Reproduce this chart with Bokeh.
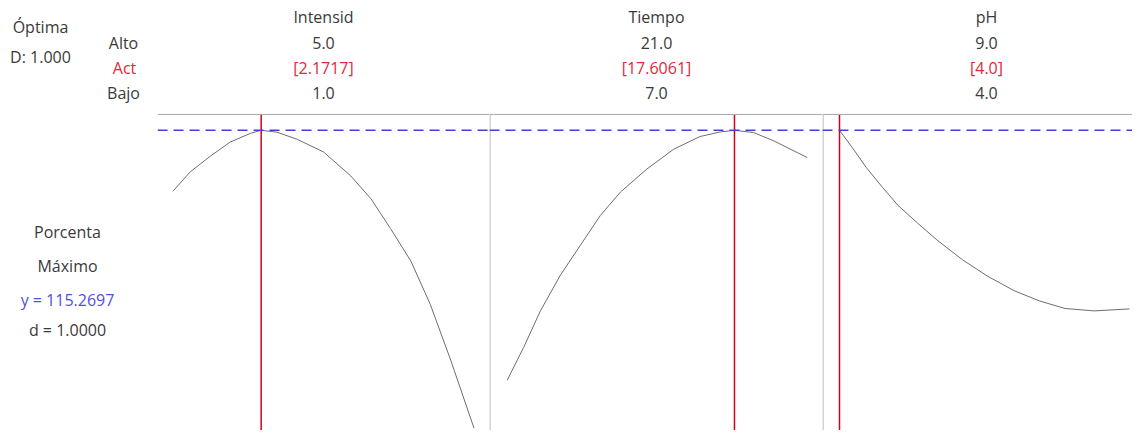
from bokeh.plotting import figure
from bokeh.layouts import row
from bokeh.models import Range1d, Span
from bokeh.core.properties import value
from bokeh.embed import file_html
from bokeh.resources import INLINE

# ---------------- data ----------------
factors = ["Intensid", "Tiempo", "pH"]
alto = ["5.0", "21.0", "9.0"]
act_labels = ["[2.1717]", "[17.6061]", "[4.0]"]
bajo = ["1.0", "7.0", "4.0"]
act_values = [2.1717, 17.6061, 4.0]
y_opt = 115.2697

intensid_x = [1.0, 1.23, 1.50, 1.76, 2.03, 2.1717, 2.38, 2.65, 3.0, 3.36, 3.63, 3.89, 4.16, 4.42, 4.69, 5.0]
intensid_y = [99.9, 104.8, 108.8, 112.3, 114.5, 115.27, 114.8, 113.0, 109.8, 103.8, 98.0, 90.5, 82.3, 71.3, 57.3, 40.1]

tiempo_x = [7.0, 7.77, 8.55, 9.49, 10.42, 11.35, 12.29, 13.52, 14.77, 16.0, 16.94, 17.6061, 18.5, 19.44, 21.0]
tiempo_y = [52.2, 60.5, 69.7, 78.8, 86.3, 93.8, 99.7, 105.5, 110.5, 113.7, 114.85, 115.27, 114.7, 112.6, 108.4]

ph_x = [4.0, 4.24, 4.46, 4.74, 5.01, 5.35, 5.68, 6.12, 6.56, 7.01, 7.45, 7.89, 8.39, 9.0]
ph_y = [115.27, 110.5, 105.9, 100.9, 96.3, 91.8, 87.6, 82.6, 78.4, 74.8, 72.2, 70.3, 69.7, 70.2]

curves_x = [intensid_x, tiempo_x, ph_x]
curves_y = [intensid_y, tiempo_y, ph_y]

# ---------------- layout / style ----------------
FONT = value("Open Sans")
FS = "16px"
TXT = "#3a3a3a"
RED_TXT = "#e0283c"
BLUE_TXT = "#5050dc"
RED = "#d0001e"
BLUE = "#4040d8"
GRAY = "#a8a8a8"
CURVE = "#6e6e6e"

H = 430
ROW_BOT = 434          # reference row shown at the bottom edge
PY_OPT = 131           # reference row of optimum line
Y_PX = 0.25            # data units per reference pixel
def yv(ref_y):
    return y_opt - (ref_y - PY_OPT) * Y_PX
Y_TOP = yv(0)
Y_BOT = yv(ROW_BOT)
PY_BORDER = 115

# panel extents (reference px), px of low level, px of high level, header center
panels = [
    (157, 489, 172.5, 473.5, 323),
    (489, 822, 506.7, 806.7, 656),
    (822, 1132, 839.0, 1129.0, 986),
]

figs = []

# left label column
left = figure(width=157, height=H, output_backend="svg", toolbar_location=None,
              x_range=Range1d(0, 157), y_range=Range1d(ROW_BOT, 0),
              min_border=0, outline_line_color=None)
left.axis.visible = False
left.grid.visible = False
def ltext(fig, x, y, t, color=TXT, align="center"):
    fig.text(x=[x], y=[y], text=[t], text_font=FONT, text_font_size=FS,
             text_color=color, text_align=align, text_baseline="middle")
ltext(left, 40, 27, "Óptima")
ltext(left, 40, 57, "D: 1.000")
ltext(left, 123, 43, "Alto")
ltext(left, 124, 68, "Act", RED_TXT)
ltext(left, 123, 93, "Bajo")
ltext(left, 67, 234, "Porcenta")
ltext(left, 67, 268, "Máximo")
ltext(left, 67, 302, "y = 115.2697", BLUE_TXT)
ltext(left, 67, 333, "d = 1.0000")
figs.append(left)

for i, (pl, pr, px_low, px_high, pc) in enumerate(panels):
    low = float(bajo[i])
    high = float(alto[i])
    ppu = (px_high - px_low) / (high - low)
    start = low - (px_low - pl) / ppu
    end = start + (pr - pl) / ppu
    p = figure(width=pr - pl, height=H, output_backend="svg", toolbar_location=None,
               x_range=Range1d(start, end), y_range=Range1d(Y_BOT, Y_TOP),
               min_border=0, outline_line_color=None)
    p.axis.visible = False
    p.grid.visible = False
    def xv(ref_x):
        return start + (ref_x - pl) / ppu
    y_border = yv(PY_BORDER)
    # frame lines
    p.add_layout(Span(location=y_border, dimension="width", line_color=GRAY, line_width=1))
    if i > 0:
        p.segment(x0=[xv(pl + 0.5)], y0=[y_border], x1=[xv(pl + 0.5)], y1=[Y_BOT],
                  line_color=GRAY, line_width=1)
    # curve
    p.line(curves_x[i], curves_y[i], line_color=CURVE, line_width=1)
    # optimum lines
    p.add_layout(Span(location=y_opt, dimension="width", line_color=BLUE,
                      line_width=1.4, line_dash="10 6"))
    p.segment(x0=[act_values[i]], y0=[y_border], x1=[act_values[i]], y1=[Y_BOT],
              line_color=RED, line_width=1.5)
    # headers
    cx = xv(pc)
    for t, py, col in [(factors[i], 17, TXT), (alto[i], 43, TXT),
                       (act_labels[i], 68, RED_TXT), (bajo[i], 93, TXT)]:
        p.text(x=[cx], y=[yv(py)], text=[t], text_font=FONT, text_font_size=FS,
               text_color=col, text_align="center", text_baseline="middle")
    figs.append(p)

layout = row(*figs, spacing=0)
open("out.html", "w").write(file_html(layout, INLINE))
